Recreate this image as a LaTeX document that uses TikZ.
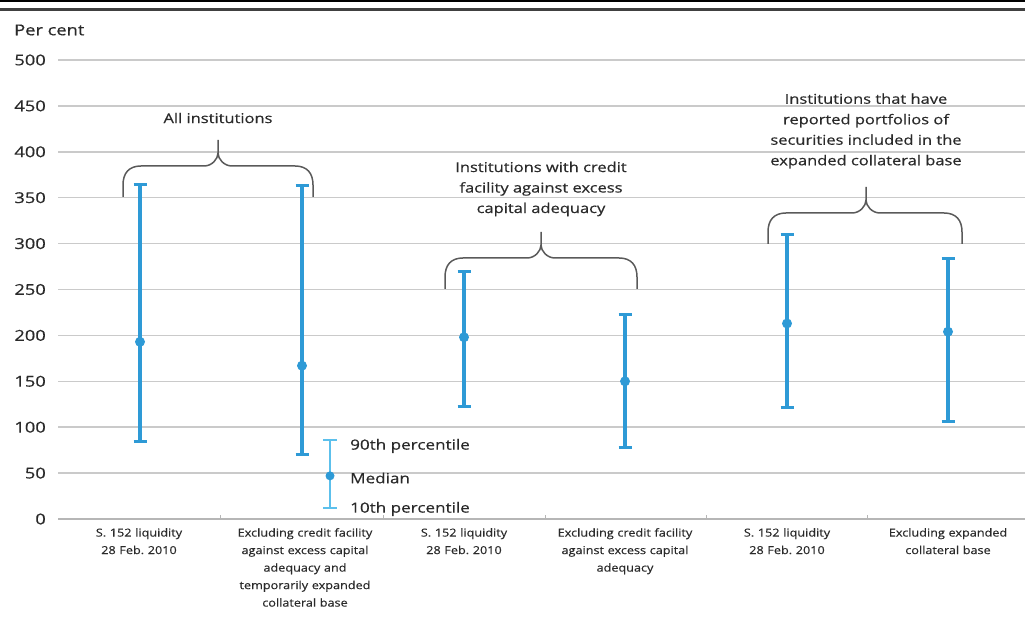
\documentclass[tikz,border=0pt]{standalone}
\usepackage{fontspec}
\setmainfont{Open Sans}
\newfontfamily\chartfont[FakeStretch=1.22, FakeBold=0.5]{Open Sans}
\newfontfamily\catfont[FakeStretch=1.15, FakeBold=0.4]{Open Sans}
\usetikzlibrary{calc}

\definecolor{barblue}{HTML}{2E9AD6}
\definecolor{legblue}{HTML}{5CC0EC}
\definecolor{gridgray}{HTML}{CACACA}
\definecolor{bracegray}{HTML}{5A5A5A}
\definecolor{textgray}{HTML}{2A2A2A}

\begin{document}
\frenchspacing
\begin{tikzpicture}[x=1pt,y=1pt,
    gridline/.style={gridgray, line width=1.5pt},
    whisker/.style={barblue, line width=3.4pt},
    legwhisker/.style={legblue, line width=2.2pt},
    bracket/.style={bracegray, line width=1.5pt, line join=round},
    ticklab/.style={anchor=east, text=textgray, font=\chartfont\fontsize{15}{18}\selectfont, inner sep=0pt},
    catlab/.style={anchor=north, text=textgray, align=center, text width=170pt,
        font=\catfont\fontsize{11}{17.5}\selectfont, inner sep=0pt},
    grplab/.style={text=textgray, align=center, font=\chartfont\fontsize{13.5}{20.5}\selectfont, inner sep=0pt},
    leglab/.style={anchor=west, text=textgray, font=\chartfont\fontsize{14}{16}\selectfont, inner sep=0pt}]
    \useasboundingbox (0,0) rectangle (1025,616);

    % rules at the top
    \fill[black] (0,613.5) rectangle (1025,616);
    \draw[black!75, line width=2.6pt] (0,606.5) -- (1025,606.5);

    \node[anchor=west, text=textgray, font=\chartfont\fontsize{15}{18}\selectfont, inner sep=0pt] (unit) at (14,586) {Per cent};

    % axis in data units
    \begin{scope}[shift={(0,97)}, y=0.918pt]
        \foreach \v in {50,100,...,500} {
            \draw[gridline] (58,\v) -- (1025,\v);
        }
        \foreach \v in {0,50,...,500} {
            \node[ticklab] (t\v) at (46,\v) {\v};
        }
        % zero line with category ticks
        \draw[gridline, gridgray!90!black] (58,0) -- (1025,0);
        \foreach \x in {220,383,545,706,867} {
            \draw[gridgray!90!black, line width=1pt] (\x,0) -- (\x,4);
        }

        % 10th percentile, median, 90th percentile
        \foreach \i/\x/\lo/\md/\hi in {1/140/84/193/364,2/302/70/167/363,3/464/123/198/270,
                                       4/625/78/150/223,5/787/121/213/310,6/948/106/204/284} {
            \coordinate (lo\i) at (\x,\lo);
            \coordinate (md\i) at (\x,\md);
            \coordinate (hi\i) at (\x,\hi);
            \draw[whisker] (lo\i) -- (hi\i);
            \draw[whisker, line width=3pt] ($(lo\i)+(-6.5,0)$) -- ($(lo\i)+(6.5,0)$);
            \draw[whisker, line width=3pt] ($(hi\i)+(-6.5,0)$) -- ($(hi\i)+(6.5,0)$);
            \fill[barblue] (md\i) circle[radius=5pt];
        }

        % legend
        \coordinate (leglo) at (330,12);
        \coordinate (legmd) at (330,47);
        \coordinate (leghi) at (330,86);
        \draw[legwhisker] (leglo) -- (leghi);
        \draw[legwhisker] ($(leglo)+(-7,0)$) -- ($(leglo)+(7,0)$);
        \draw[legwhisker] ($(leghi)+(-7,0)$) -- ($(leghi)+(7,0)$);
        \fill[barblue] (legmd) circle[radius=4.5pt];
    \end{scope}

    \node[leglab] (l90) at (350,170) {90th percentile};
    \node[leglab] (lmd) at (350,138) {Median};
    \node[leglab] (l10) at (350,107) {10th percentile};

    % category labels
    \node[catlab] (c1) at (139,88) {S. 152 liquidity\\28 Feb. 2010};
    \node[catlab] (c2) at (305,88) {Excluding credit facility\\against excess capital\\adequacy and\\temporarily expanded\\collateral base};
    \node[catlab] (c3) at (464,88) {S. 152 liquidity\\28 Feb. 2010};
    \node[catlab] (c4) at (625,88) {Excluding credit facility\\against excess capital\\adequacy};
    \node[catlab] (c5) at (787,88) {S. 152 liquidity\\28 Feb. 2010};
    \node[catlab] (c6) at (948,88) {Excluding expanded\\collateral base};

    % group braces
    \foreach \g/\l/\m/\r/\b in {1/123/218/313/419,2/445/541/637/327,3/768/866/962/372} {
        \coordinate (bl\g) at (\l,\b);
        \coordinate (bt\g) at (\m,\b+57);
        \coordinate (br\g) at (\r,\b);
        \draw[bracket] (bl\g) -- ++(0,12) .. controls ++(0,12) and ++(-12,0) .. ++(18,19)
            -- ($(bt\g)+(-14,-26)$) .. controls ++(8,0) and ++(0,-6) .. ($(bt\g)+(0,-13)$) -- (bt\g);
        \draw[bracket] (br\g) -- ++(0,12) .. controls ++(0,12) and ++(12,0) .. ++(-18,19)
            -- ($(bt\g)+(14,-26)$) .. controls ++(-8,0) and ++(0,-6) .. ($(bt\g)+(0,-13)$);
    }

    \node[grplab] (g1) at (218,498) {All institutions};
    \node[grplab] (g2) at (541,427) {Institutions with credit\\facility against excess\\capital adequacy};
    \node[grplab] (g3) at (866,485) {Institutions that have\\reported portfolios of\\securities included in the\\expanded collateral base};
\end{tikzpicture}
\end{document}
